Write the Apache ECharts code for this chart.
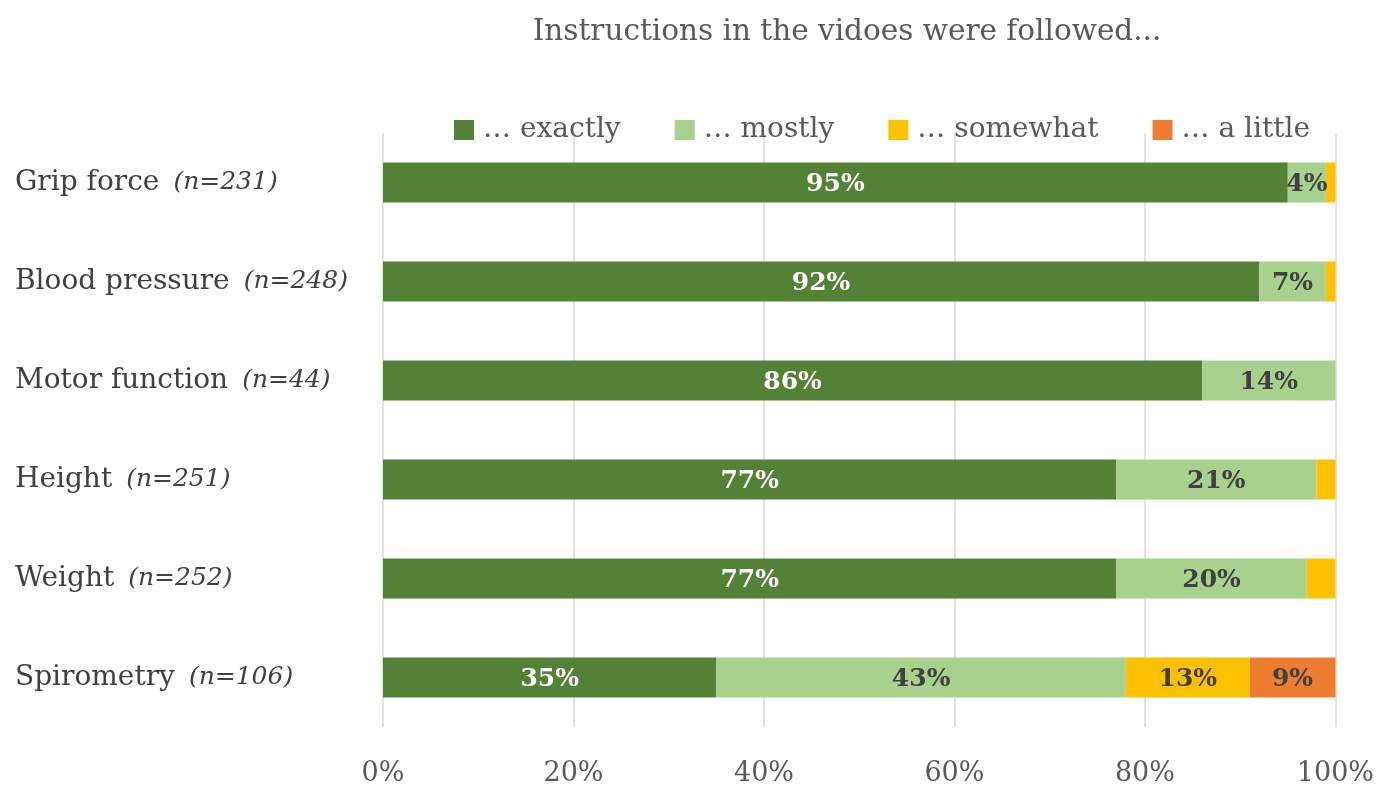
<!DOCTYPE html>
<html><head><meta charset="utf-8">
<script src="https://cdn.jsdelivr.net/npm/echarts@6/dist/echarts.min.js"></script>
<style>html,body{margin:0;padding:0;background:#fff}#c{width:1377px;height:787px}</style>
</head><body><div id="c"></div>
<script>
var categories = ['Grip force','Blood pressure','Motor function','Height','Weight','Spirometry'];
var nValues = [231,248,44,251,252,106];
var exactly = [95,92,86,77,77,35];
var mostly = [4,7,14,21,20,43];
var somewhat = [1,1,0,2,3,13];
var aLittle = [0,0,0,0,0,9];
var seriesNames = ['… exactly','… mostly','… somewhat','… a little'];

var FONT = 'DejaVu Serif';
var colors = ['#538135','#A9D18E','#FFC000','#ED7D31'];
var labelColors = ['#ffffff','#404040','#404040','#404040'];
var dataSets = [exactly, mostly, somewhat, aLittle];

var chart = echarts.init(document.getElementById('c'));
var series = dataSets.map(function(d, i){
  return {
    name: seriesNames[i], type: 'bar', stack: 'total', data: d,
    barWidth: 40,
    itemStyle: {color: colors[i]},
    label: {show: true, position: 'inside', color: labelColors[i], fontFamily: FONT,
      fontWeight: 'bold', fontSize: 25, offset: [0, 2],
      formatter: function(p){ return p.value >= 4 ? p.value + '%' : ''; }}
  };
});
chart.setOption({
  animation: false,
  textStyle: {fontFamily: FONT},
  title: {text: 'Instructions in the vidoes were followed...', left: 842, textAlign: 'center', top: 12,
    textStyle: {fontFamily: FONT, fontWeight: 'normal', fontSize: 29.5, color: '#595959'}},
  legend: {left: 449, top: 111, itemWidth: 20, itemHeight: 20, itemGap: 54,
    icon: 'rect',
    textStyle: {fontFamily: FONT, fontSize: 28, color: '#595959', padding: [0,0,0,4]},
    data: seriesNames},
  grid: {left: 383, right: 37, top: 133, bottom: 60, containLabel: false},
  xAxis: {type: 'value', min: 0, max: 100, interval: 20,
    axisLine: {show: false}, axisTick: {show: false},
    splitLine: {lineStyle: {color: '#d9d9d9', width: 1.5}},
    axisLabel: {formatter: '{value}%', fontFamily: FONT, fontSize: 27, color: '#595959', margin: 33}},
  yAxis: {type: 'category', inverse: true, data: categories,
    axisLine: {show: false}, axisTick: {show: false},
    axisLabel: {align: 'left', margin: 368,
      formatter: function(v, idx){ return '{a|' + v + '}{b|(n=' + nValues[idx] + ')}'; },
      rich: {
        a: {fontFamily: FONT, fontSize: 28, color: '#404040', padding: [0, 14, 0, 0]},
        b: {fontFamily: FONT, fontSize: 25, fontStyle: 'italic', color: '#404040'}
      }}},
  series: series
});
</script></body></html>
